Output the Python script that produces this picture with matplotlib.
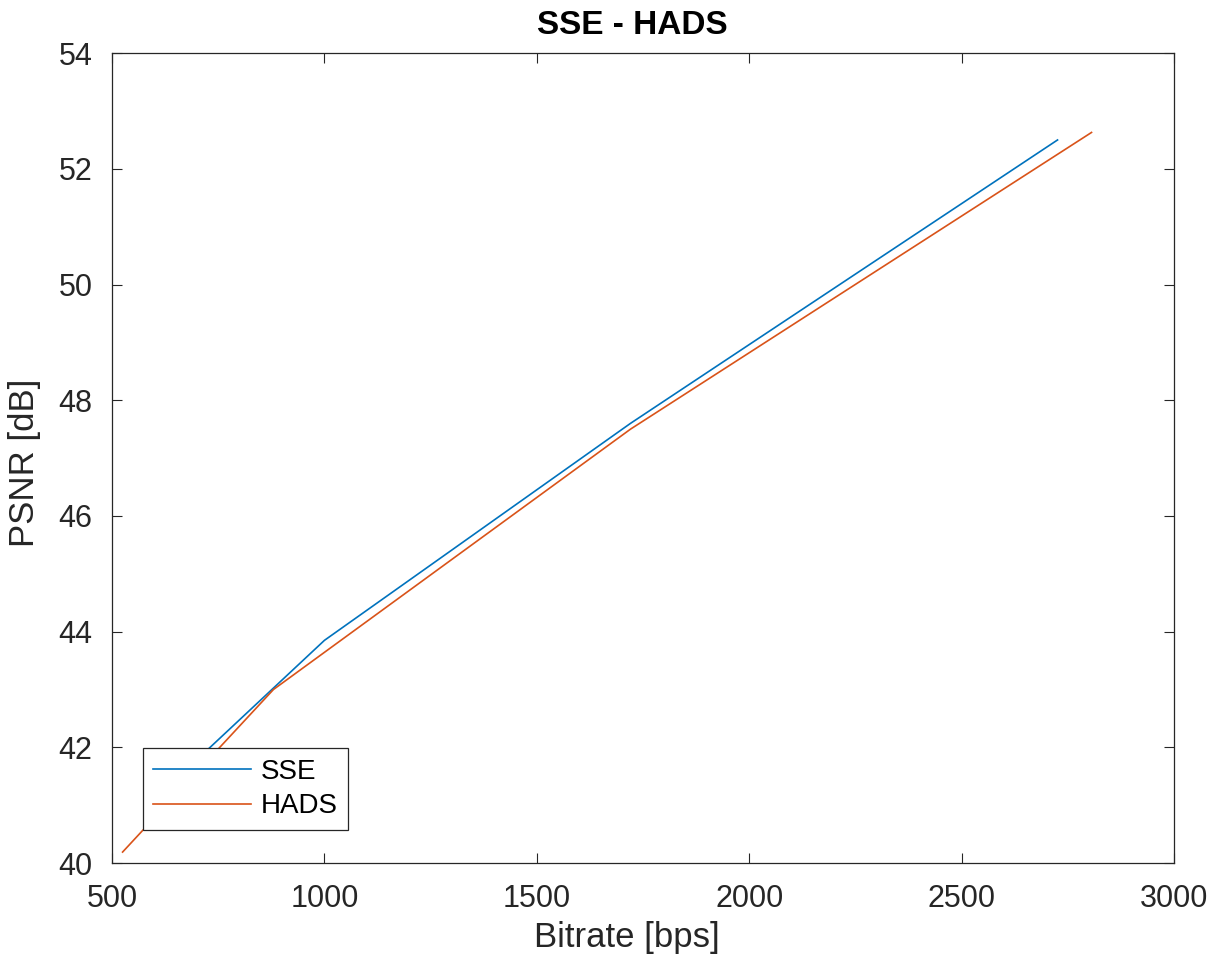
import matplotlib
matplotlib.use("Agg")
import matplotlib.pyplot as plt

# values
sse_bitrate = [600, 1000, 1720, 2725]
sse_psnr = [41.1, 43.85, 47.6, 52.5]
hads_bitrate = [525, 880, 1720, 2805]
hads_psnr = [40.19, 43.0, 47.5, 52.63]

x_ticks = [500, 1000, 1500, 2000, 2500, 3000]
y_ticks = [40, 42, 44, 46, 48, 50, 52, 54]

plt.rcParams['font.family'] = ['Liberation Sans', 'DejaVu Sans']
txt = '#262626'

fig = plt.figure(figsize=(12.17, 9.67), dpi=100)
ax = fig.add_axes([0.092, 0.1075, 0.873, 0.8375])

ax.plot(sse_bitrate, sse_psnr, color='#0072BD', lw=1.2, label='SSE')
ax.plot(hads_bitrate, hads_psnr, color='#D95319', lw=1.2, label='HADS')

ax.set_xlim(500, 3000)
ax.set_ylim(40, 54)
ax.set_xticks(x_ticks)
ax.set_yticks(y_ticks)
ax.tick_params(direction='in', top=True, right=True, length=7, width=0.8,
               colors=txt, labelsize=22)
ax.tick_params(axis='x', pad=15)
ax.tick_params(axis='y', pad=14)
for s in ax.spines.values():
    s.set_color(txt)
    s.set_linewidth(0.9)

ax.set_xlabel('Bitrate [bps]', fontsize=25, color=txt)
ax.xaxis.set_label_coords(0.485, -0.072)
ax.set_ylabel('PSNR [dB]', fontsize=25, color=txt)
ax.yaxis.set_label_coords(-0.067, 0.494)
ax.set_title('SSE - HADS', fontsize=24, fontweight='bold', color='black',
             pad=14, x=0.49)

leg = ax.legend(loc='lower left', bbox_to_anchor=(0.029, 0.041), borderaxespad=0,
                fontsize=20, handlelength=3.5, fancybox=False, framealpha=1,
                edgecolor=txt, borderpad=0.38, labelspacing=0.3, handletextpad=0.35)
leg.get_frame().set_linewidth(0.9)

fig.savefig('out.png', dpi=100)
